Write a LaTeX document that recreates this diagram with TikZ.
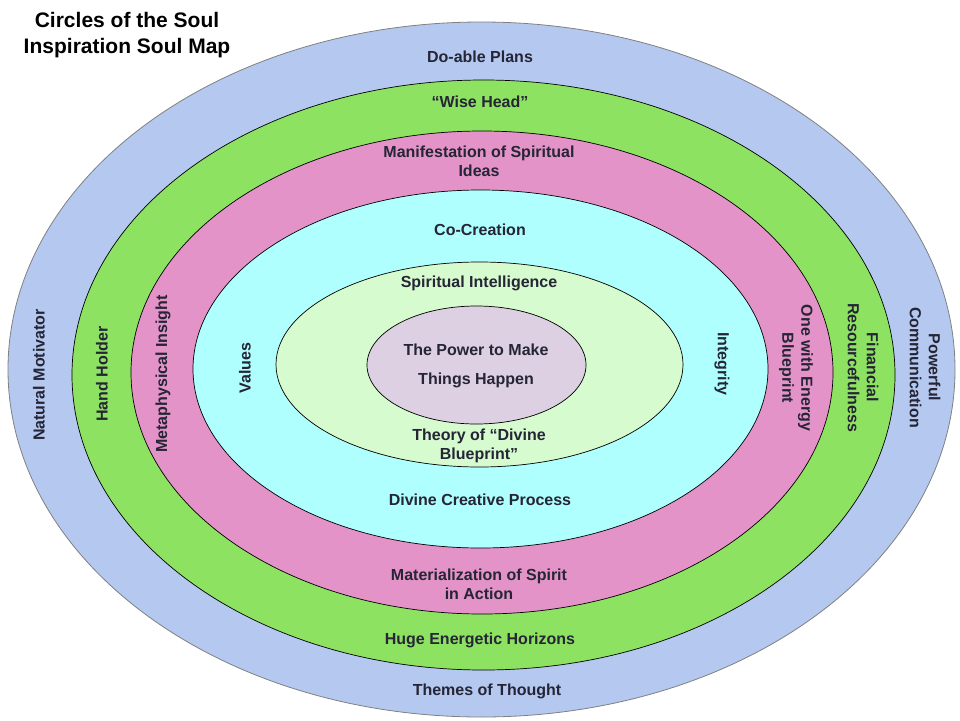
\documentclass[tikz,border=0pt]{standalone}
\usepackage{fontspec}
\setmainfont{Liberation Sans}
\definecolor{ringblue}{HTML}{B4C8F0}
\definecolor{ringgreen}{HTML}{8EE262}
\definecolor{ringpink}{HTML}{E393C8}
\definecolor{ringcyan}{HTML}{AEFFFE}
\definecolor{ringmint}{HTML}{D6FBCF}
\definecolor{ringlilac}{HTML}{DDD0E2}
\definecolor{inkgray}{HTML}{252535}
\begin{document}
\begin{tikzpicture}[x=1pt,y=-1pt,
  ring/.style={draw=black,line width=0.7pt},
  lbl/.style={font=\fontsize{16}{19}\selectfont\bfseries,text=inkgray,align=center,inner sep=0pt}]
\useasboundingbox (0,0) rectangle (960,720);
\filldraw[fill=ringblue,draw=gray,line width=0.8pt] (481.5,369.5) ellipse [x radius=473.5,y radius=347.5];
\filldraw[ring,fill=ringgreen] (483.5,375) ellipse [x radius=411.5,y radius=295];
\filldraw[ring,fill=ringpink] (482,372.5) ellipse [x radius=351,y radius=241.5];
\filldraw[ring,fill=ringcyan] (480.5,369) ellipse [x radius=287.5,y radius=179];
\filldraw[ring,fill=ringmint] (479.5,364.5) ellipse [x radius=203.5,y radius=102.5];
\filldraw[ring,fill=ringlilac] (476.5,365) ellipse [x radius=109.5,y radius=59];

\node[font=\fontsize{21}{26}\selectfont\bfseries,align=center,inner sep=0pt] (title) at (127,35) {Circles of the Soul\\Inspiration Soul Map};

% top and bottom labels
\node[lbl] (plans) at (480,57) {Do-able Plans};
\node[lbl] (wise) at (480,102) {“Wise Head”};
\node[lbl] (manif) at (479,161.5) {Manifestation of Spiritual\\Ideas};
\node[lbl] (cocreate) at (480,230) {Co-Creation};
\node[lbl] (intel) at (479,283) {Spiritual Intelligence};
\node[lbl,font=\fontsize{16}{29}\selectfont\bfseries] (power) at (476,365.5) {The Power to Make\\Things Happen};
\node[lbl] (theory) at (479,445.5) {Theory of “Divine\\Blueprint”};
\node[lbl] (process) at (480,500) {Divine Creative Process};
\node[lbl] (matter) at (479,584) {Materialization of Spirit\\in Action};
\node[lbl] (horizon) at (480,640) {Huge Energetic Horizons};
\node[lbl] (themes) at (487,691) {Themes of Thought};

% left side
\node[lbl,rotate=90] (motiv) at (39,375) {Natural Motivator};
\node[lbl,rotate=90] (hand) at (102,374) {Hand Holder};
\node[lbl,rotate=90] (insight) at (163,374) {Metaphysical Insight};
\node[lbl,rotate=90] (values) at (245,368) {Values};

% right side
\node[lbl,rotate=-90] (integ) at (722,364) {Integrity};
\node[lbl,rotate=-90] (energy) at (796,368) {One with Energy\\Blueprint};
\node[lbl,rotate=-90] (finance) at (863,367.5) {Financial\\Resourcefulness};
\node[lbl,rotate=-90] (comm) at (925,367.5) {Powerful\\Communication};
\end{tikzpicture}
\end{document}
